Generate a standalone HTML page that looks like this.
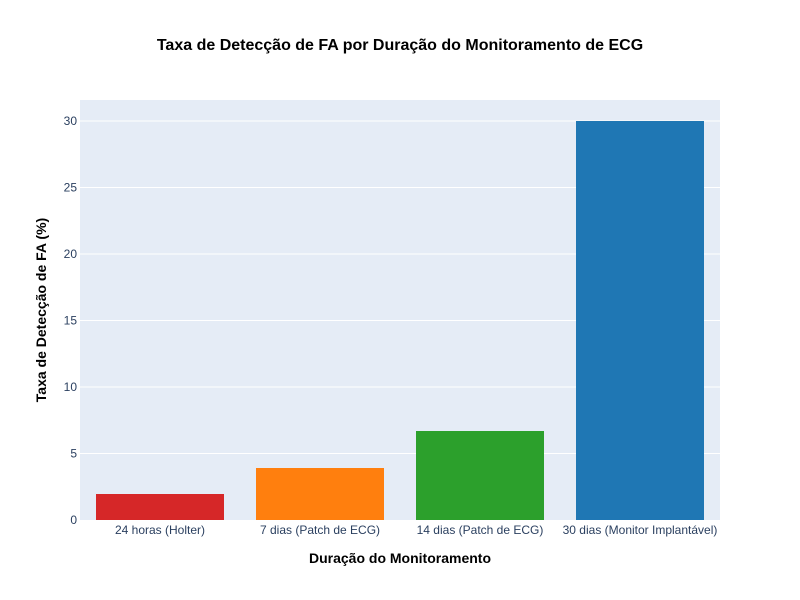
<!DOCTYPE html>
<html><head><meta charset="utf-8"><style>
html,body{margin:0;padding:0;background:#fff;}
svg{display:block;font-family:"Liberation Sans",sans-serif;}
</style></head><body>
<svg width="800" height="600" xmlns="http://www.w3.org/2000/svg">
<rect x="0" y="0" width="800" height="600" fill="#fff"/>
<rect x="80" y="100" width="640" height="420" fill="#e5ecf6"/>
<g stroke="#fff" stroke-width="1">
<line x1="80" x2="720" y1="453.5" y2="453.5"/>
<line x1="80" x2="720" y1="387" y2="387"/>
<line x1="80" x2="720" y1="320.5" y2="320.5"/>
<line x1="80" x2="720" y1="254" y2="254"/>
<line x1="80" x2="720" y1="187.5" y2="187.5"/>
<line x1="80" x2="720" y1="121" y2="121"/>
</g>
<rect x="96" y="494" width="128" height="26" fill="#d62728"/>
<rect x="256" y="468" width="128" height="52" fill="#ff7f0e"/>
<rect x="416" y="431" width="128" height="89" fill="#2ca02c"/>
<rect x="576" y="121" width="128" height="399" fill="#1f77b4"/>
<g font-size="12" fill="#2a3f5f" text-anchor="end">
<text x="77" y="524">0</text>
<text x="77" y="457.5">5</text>
<text x="77" y="391">10</text>
<text x="77" y="324.5">15</text>
<text x="77" y="258">20</text>
<text x="77" y="191.5">25</text>
<text x="77" y="125">30</text>
</g>
<g font-size="12" fill="#2a3f5f" text-anchor="middle">
<text x="160" y="534">24 horas (Holter)</text>
<text x="320" y="534">7 dias (Patch de ECG)</text>
<text x="480" y="534">14 dias (Patch de ECG)</text>
<text x="640" y="534">30 dias (Monitor Implantável)</text>
</g>
<text x="400" y="50" font-size="16" font-weight="bold" text-anchor="middle" fill="#000">Taxa de Detecção de FA por Duração do Monitoramento de ECG</text>
<text x="400" y="563" font-size="14" font-weight="bold" text-anchor="middle" fill="#000">Duração do Monitoramento</text>
<text transform="translate(46,310) rotate(-90)" font-size="14" font-weight="bold" text-anchor="middle" fill="#000">Taxa de Detecção de FA (%)</text>
</svg>
</body></html>
